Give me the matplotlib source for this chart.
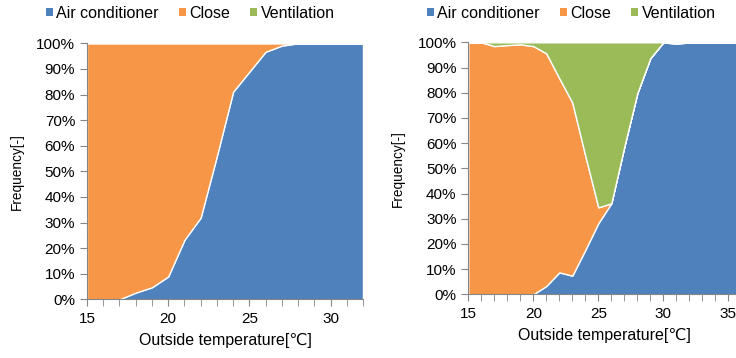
import matplotlib
matplotlib.use("Agg")
import matplotlib.pyplot as plt
from matplotlib.patches import Patch
from matplotlib.ticker import MultipleLocator, PercentFormatter

plt.rcParams['font.family'] = ['Liberation Sans', 'DejaVu Sans']

series_names = ["Air conditioner", "Close", "Ventilation"]
colors = ["#4F81BD", "#F79646", "#9BBB59"]

# left chart: 15..32 degC
temp_left = list(range(15, 33))
ac_left = [0, 0, 0, 2.6, 4.7, 8.9, 23.2, 31.9, 56, 81.1, 88.9, 96.7, 99.1, 100,
           100, 100, 100, 100]
close_left = [100 - v for v in ac_left]
vent_left = [0] * len(temp_left)

# right chart: 15..36 degC
temp_right = list(range(15, 37))
ac_right = [0, 0, 0, 0, 0, 0, 3.3, 8.7, 7.4, 17.6, 28.2, 36.1, 58.6, 79.8, 93.7,
            100, 99.4, 100, 100, 100, 100, 100]
close_right = [100, 100, 98.5, 98.9, 99.2, 98.5, 92.3, 77.0, 68.7, 37.4, 6.3, 0,
               0, 0, 0, 0, 0.6, 0, 0, 0, 0, 0]
vent_right = [100 - a - c for a, c in zip(ac_right, close_right)]


def draw(ax, temps, ac, close, vent, xmax, xticks, legend_x):
    ax.stackplot(temps, ac, close, vent, colors=colors,
                 edgecolor="white", linewidth=1.0)
    ax.set_xlim(15, xmax)
    ax.set_ylim(0, 100)
    ax.set_xticks(xticks)
    ax.xaxis.set_minor_locator(MultipleLocator(1))
    ax.yaxis.set_major_locator(MultipleLocator(10))
    ax.yaxis.set_major_formatter(PercentFormatter(decimals=0))
    for s in ["top", "right"]:
        ax.spines[s].set_visible(False)
    for s in ["left", "bottom"]:
        ax.spines[s].set_color("#868686")
    ax.tick_params(axis="both", which="both", direction="out", color="#868686",
                   labelsize=11, length=5)
    ax.tick_params(axis="x", pad=4)
    ax.set_xlabel("Outside temperature[℃]", fontsize=11.5, labelpad=5)
    ax.set_ylabel("Frequency[-]", fontsize=9.8, labelpad=9)
    handles = [Patch(facecolor=c, edgecolor="none") for c in colors]
    fig.legend(handles, series_names, loc="center left",
               bbox_to_anchor=(legend_x / 736, 1 - 13 / 358),
               ncol=3, frameon=False, fontsize=11.5, handlelength=0.45,
               handleheight=0.45, handletextpad=0.2, columnspacing=1.25,
               borderpad=0, borderaxespad=0)


fig = plt.figure(figsize=(7.36, 3.58), dpi=100)
ax1 = fig.add_axes([87 / 736, 1 - 299.3 / 358, 276 / 736, 256 / 358])
ax2 = fig.add_axes([468.3 / 736, 1 - 294.3 / 358, 273 / 736, 252 / 358])

draw(ax1, temp_left, ac_left, close_left, vent_left, 32, [15, 20, 25, 30], 46)
draw(ax2, temp_right, ac_right, close_right, vent_right, 36,
     [15, 20, 25, 30, 35], 427)

fig.savefig("out.png", dpi=100)
